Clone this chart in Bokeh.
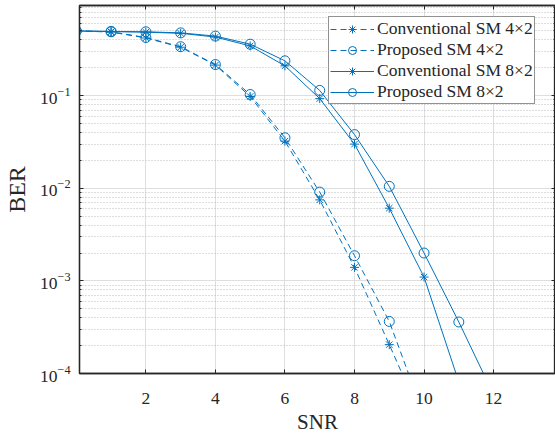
from bokeh.plotting import figure
from bokeh.models import Range1d, FixedTicker, LogTickFormatter, LinearAxis, LogAxis, CustomJSTickFormatter
from bokeh.embed import file_html
from bokeh.resources import INLINE

# ---- data ----
snr_4x2 = [0, 1, 2, 3, 4, 5, 6, 7, 8, 9, 10]
ber_conv_4x2 = [0.5, 0.487, 0.42, 0.334, 0.214, 0.098, 0.0323, 0.0075, 0.0014, 0.000205, 2.9e-5]
ber_prop_4x2 = [0.5, 0.49, 0.425, 0.338, 0.217, 0.103, 0.0351, 0.0091, 0.00187, 0.000365, 3.5e-5]

snr_conv_8x2 = [0, 1, 2, 3, 4, 5, 6, 7, 8, 9, 10, 11]
ber_conv_8x2 = [0.5, 0.492, 0.485, 0.472, 0.43, 0.345, 0.21, 0.093, 0.030, 0.0061, 0.0011, 8.1e-5]
snr_prop_8x2 = [0, 1, 2, 3, 4, 5, 6, 7, 8, 9, 10, 11, 12]
ber_prop_8x2 = [0.5, 0.495, 0.49, 0.477, 0.44, 0.36, 0.238, 0.114, 0.038, 0.0105, 0.002, 0.00036, 5.9e-5]

x_ticks = [2, 4, 6, 8, 10, 12]
y_ticks = [1e-4, 1e-3, 1e-2, 1e-1]
y_minor = [m * d for d in [1e-4, 1e-3, 1e-2, 1e-1] for m in range(2, 10)]

labels = ["Conventional SM 4\u00d72", "Proposed SM 4\u00d72",
          "Conventional SM 8\u00d72", "Proposed SM 8\u00d72"]

BLUE = "#0072BD"
DARK = "#262626"
FONT = "Liberation Serif"

p = figure(width=555, height=436, y_axis_type="log",
           x_range=Range1d(0.092, 13.78), y_range=Range1d(1e-4, 0.942),
           output_backend="svg", toolbar_location=None,
           min_border_left=77, min_border_right=0, min_border_top=5, min_border_bottom=61)

p.background_fill_color = "white"
p.border_fill_color = "white"
p.outline_line_color = DARK
p.outline_line_width = 1.3

xt = FixedTicker(ticks=x_ticks)
yt = FixedTicker(ticks=y_ticks, minor_ticks=y_minor)

p.xaxis.ticker = xt
p.yaxis.ticker = yt
p.yaxis.formatter = LogTickFormatter()

p.xgrid.ticker = xt
p.ygrid.ticker = yt
p.xgrid.grid_line_color = "#dedede"
p.ygrid.grid_line_color = "#dedede"
p.ygrid.minor_grid_line_color = "#bdbdbd"
p.ygrid.minor_grid_line_dash = "1 2"
p.ygrid.minor_grid_line_width = 1


def style_axis(ax):
    ax.axis_line_color = DARK
    ax.axis_line_width = 1.3
    ax.major_tick_in = 4
    ax.major_tick_out = 0
    ax.minor_tick_in = 2
    ax.minor_tick_out = 0
    ax.major_tick_line_color = DARK
    ax.minor_tick_line_color = DARK
    ax.major_label_text_font = FONT
    ax.major_label_text_color = DARK
    ax.axis_label_text_font = FONT
    ax.axis_label_text_color = DARK
    ax.axis_label_text_font_style = "normal"


for ax in [p.xaxis[0], p.yaxis[0]]:
    style_axis(ax)
    ax.major_label_text_font_size = "17.5px"

p.xaxis.minor_tick_line_color = None
p.xaxis.axis_label = "SNR"
p.yaxis.axis_label = "BER"
p.xaxis.axis_label_text_font_size = "21px"
p.yaxis.axis_label_text_font_size = "24px"
p.xaxis.major_label_standoff = 19
p.xaxis.axis_label_standoff = 3
p.yaxis.major_label_standoff = 9
p.yaxis.axis_label_standoff = 7

blank = CustomJSTickFormatter(code="return ''")

top_ax = LinearAxis(ticker=xt, formatter=blank)
style_axis(top_ax)
top_ax.minor_tick_line_color = None
top_ax.major_label_text_font_size = "1px"
top_ax.major_label_standoff = 0
top_ax.axis_label_standoff = 0
p.add_layout(top_ax, "above")

right_ax = LogAxis(ticker=yt, formatter=blank)
style_axis(right_ax)
right_ax.major_label_text_font_size = "1px"
right_ax.major_label_standoff = 0
right_ax.axis_label_standoff = 0
p.add_layout(right_ax, "right")

# series
series = [
    (snr_4x2, ber_conv_4x2, "6 4", "asterisk", labels[0]),
    (snr_4x2, ber_prop_4x2, "6 4", "circle", labels[1]),
    (snr_conv_8x2, ber_conv_8x2, "solid", "asterisk", labels[2]),
    (snr_prop_8x2, ber_prop_8x2, "solid", "circle", labels[3]),
]
for xs, ys, dash, marker, lab in series:
    p.line(xs, ys, line_color=BLUE, line_width=1, line_dash=dash, legend_label=lab)
    p.scatter(xs, ys, marker=marker, size=10 if marker == "circle" else 9,
              fill_color=None, line_color=BLUE, line_width=1, legend_label=lab)

lg = p.legend[0]
lg.location = (249, 269)
lg.padding = 1
lg.spacing = 0
lg.label_height = 20
lg.glyph_height = 20
lg.glyph_width = 44
lg.label_standoff = 3
lg.label_text_font = FONT
lg.label_text_font_size = "17.5px"
lg.label_text_color = DARK
lg.border_line_color = DARK
lg.border_line_width = 1
lg.background_fill_color = "white"
lg.background_fill_alpha = 1

open("out.html", "w").write(file_html(p, INLINE))
